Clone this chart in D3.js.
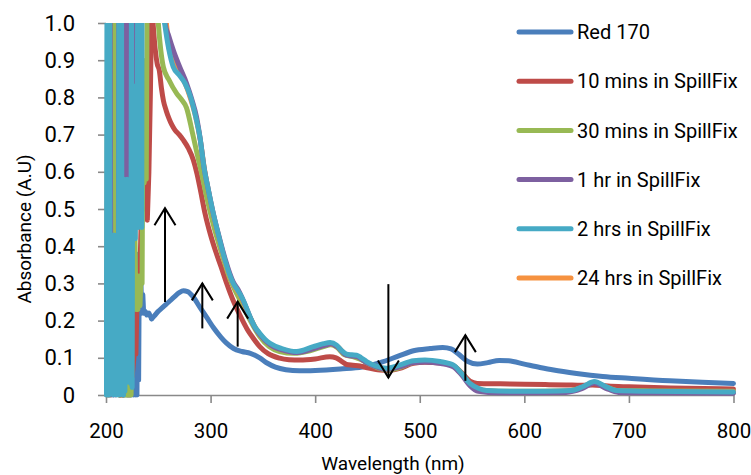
<!DOCTYPE html>
<html>
<head>
<meta charset="utf-8">
<script src="https://cdn.jsdelivr.net/npm/d3@7"></script>
<style>
  body { margin: 0; background: #fff; }
  svg text { font-family: Roboto, "Liberation Sans", sans-serif; fill: #000; }
</style>
</head>
<body>
<svg id="chart" width="751" height="475"></svg>
<script>
// UV-Vis absorbance spectra: [wavelength nm, absorbance]
const seriesNames = ["Red 170", "10 mins in SpillFix", "30 mins in SpillFix", "1 hr in SpillFix", "2 hrs in SpillFix", "24 hrs in SpillFix"];

const red170 = [[214,0],[215,1.1],[216,0],[217,1.15],[218,0],[219,1.2],[220,0],[221,1.1],[222,0],[223,1.2],[224,0],[225,1.1],
  [226.2,0],[227.2,0.39],[228.0,0],[228.8,0.38],[229.6,0],[230.4,0.36],[231.2,0.04],[231.8,0.33],[232.6,0.24],[233.4,0.3],[234.2,0.22],[235.2,0.27],[236,0.22],[237.5,0.225],[239,0.215],[241,0.22],[243.6,0.205],[246,0.212],[250,0.225],[254.7,0.237],[260,0.25],[265,0.263],[270,0.275],[274,0.28],[278,0.278],[283,0.265],[290,0.235],[296,0.21],[303,0.18],[310,0.155],[315,0.14],[322,0.125],[330,0.117],[338,0.112],[347,0.1],[354,0.086],[362,0.075],[372,0.068],[385,0.065],[400,0.066],[424,0.07],[445,0.075],[462,0.087],[480,0.105],[494,0.119],[510,0.125],[522,0.128],[530,0.124],[537,0.11],[546,0.09],[555,0.083],[565,0.087],[576,0.093],[585,0.092],[600,0.083],[615,0.074],[628,0.067],[650,0.058],[675,0.05],[700,0.045],[739,0.038],[770,0.034],[800,0.031]];

const mins10 = [[213,0],[214,1.1],[215,0],[216,1.2],[217,0],[218,1.1],[219,0.02],[220,1.2],[221,0],[222,1.1],[223,0],[224,1.2],[225,0.05],
  [227,0.11],[227.8,0.24],[228.6,0.11],[229.4,0.22],[230.6,0.3],[232,0.28],[233.5,0.45],[235,0.62],[236.5,0.5],[238,0.66],[239.5,0.47],[241,0.6],[242.5,0.82],[243.8,1.08],[245,1.0],[247,0.93],[249,0.89],[251,0.872],[253,0.825],[255,0.79],[257.5,0.765],[260,0.745],[263,0.726],[266,0.712],[270,0.7],[274,0.685],[279,0.662],[283.5,0.632],[287,0.595],[290,0.555],[294.7,0.488],[300,0.43],[305,0.385],[310,0.345],[315.4,0.3],[321,0.258],[328,0.215],[335,0.177],[341,0.152],[347,0.13],[355,0.111],[366,0.099],[375,0.095],[385.5,0.094],[400,0.097],[414,0.103],[420,0.1],[426,0.089],[430,0.082],[436,0.08],[443,0.078],[450,0.073],[462,0.067],[470,0.066],[480,0.071],[494,0.085],[505,0.088],[519,0.086],[532,0.079],[540,0.06],[548,0.037],[555,0.031],[577,0.03],[600,0.029],[620,0.028],[640,0.027],[655,0.026],[665,0.027],[680,0.024],[700,0.022],[740,0.019],[800,0.016]];

const mins30 = [[200.6,0],[201.6,1.2],[202.6,0],[203.6,1.2],[204.6,0],[205.6,1.2],[206.6,0.44],[207.6,1.2],[208.5,0.44],[209.4,1.2],[210.3,0.44],[211.2,1.2],[212,0],[213,1.2],[214,0],[215,1.1],[216,0],[217,0.5],[218,0],[219,0.5],[220,0],[221,0.5],[222,0],[223,0.5],[224,0],[225,0.5],[227.6,0.45],
  [228.5,0.23],[229.5,0.32],[230.5,0.23],[231.5,0.32],[232.5,0.24],[233.5,0.32],[234.5,0.3],[235.5,0.9],[236.5,0.57],[237.5,0.88],[238.5,0.58],[239.5,1.2],[245,1.25],[250,1.0],[254.8,0.882],[260,0.848],[267.5,0.811],[272,0.795],[277,0.772],[282.8,0.703],[287,0.65],[291.4,0.596],[296,0.535],[302,0.465],[308,0.405],[314,0.35],[319,0.308],[324,0.278],[330,0.245],[338,0.2],[347,0.157],[356,0.13],[366,0.117],[380,0.112],[395,0.119],[408,0.13],[415,0.135],[421,0.128],[428,0.108],[436,0.103],[443,0.096],[452,0.083],[462,0.071],[470,0.067],[480,0.073],[494,0.088],[505,0.091],[519,0.088],[532,0.079],[540,0.058],[548,0.029],[556,0.014],[575,0.01],[600,0.01],[640,0.011],[655,0.02],[667,0.034],[678,0.022],[690,0.012],[720,0.011],[800,0.01]];

const hr1 = [[200.8,0],[201.8,1.2],[202.8,0],[203.8,1.2],[204.8,0],[205.8,0.4],[207,0],[208,0.4],[209,0],[210,0.4],[211.8,0.3],[212.4,1.2],[213.3,0],[214.3,1.2],[215.3,0.3],[216.3,0],[217.3,1.2],[218.2,0.58],[219,1.2],[219.8,0.6],[220.6,1.2],[221.4,0.59],[222.2,1.2],[223,0.6],[223.8,1.2],[224.6,0.6],[225.4,1.2],[226.2,0.6],[227,1.2],[227.8,0.62],[228.6,1.2],[234,1.25],[250,1.3],
  [256.4,1.0],[260,0.965],[264.3,0.927],[270,0.885],[277,0.838],[282,0.795],[286.5,0.748],[290,0.69],[293.6,0.614],[298,0.55],[302.6,0.488],[308,0.427],[314,0.365],[318,0.33],[322,0.302],[326,0.285],[330,0.262],[334,0.235],[338,0.208],[342,0.183],[347,0.163],[357,0.135],[370,0.12],[382,0.114],[398,0.124],[410,0.134],[415,0.138],[421,0.13],[430,0.107],[440,0.103],[449,0.087],[460,0.074],[468,0.069],[480,0.075],[494,0.087],[505,0.089],[519,0.085],[532,0.076],[540,0.054],[548,0.025],[556,0.01],[575,0.006],[600,0.006],[640,0.007],[655,0.017],[667,0.032],[678,0.018],[690,0.007],[720,0.006],[800,0.005]];

const hrs2 = [[200.4,0],[201,1.2],[201.6,0.02],[202.2,1.2],[202.8,0],[203.4,1.15],[204,0.01],[204.6,0.43],[205.4,0.02],[206.2,0.42],[207,0],[207.8,0.43],[208.6,0.01],[209.4,0.42],[210.2,0],[211,0.43],[211.8,0.02],[212.4,1.2],[213,0],[213.6,1.2],[214.2,0.01],[214.8,1.15],[215.4,0.02],[216,0.57],[216.7,0],[217.4,0.58],[218.1,0.01],[218.8,0.56],[219.5,0.04],[220.2,0.58],[220.9,0.035],[221.6,0.57],[222.3,0.04],[223,0.56],[223.7,0.03],[224.4,1.2],[225,0.02],[225.6,0.83],[226.4,0.43],[227.2,0.83],[228,0.42],[228.8,0.83],[229.6,0.45],[230.4,1.2],[231.2,0.45],[232,1.2],[232.8,0.5],[233.6,1.2],[234.2,0.45],[234.5,1.2],[245,1.3],
  [256,1.0],[260,0.93],[264.3,0.882],[270,0.86],[275.5,0.838],[281,0.8],[286,0.745],[290,0.69],[293.6,0.614],[298,0.55],[302.6,0.488],[308,0.425],[314,0.36],[318,0.325],[322,0.298],[325,0.285],[328,0.272],[332,0.25],[337.7,0.21],[342,0.185],[347,0.166],[352,0.15],[356.8,0.139],[368,0.125],[382.3,0.117],[398.2,0.13],[408,0.138],[414.2,0.141],[420.5,0.134],[425,0.12],[430,0.11],[435,0.108],[439.7,0.107],[444,0.1],[449.2,0.09],[458,0.078],[468.3,0.072],[480,0.08],[494,0.092],[505,0.094],[519.4,0.09],[532,0.081],[540,0.058],[548,0.031],[556,0.018],[564,0.012],[590,0.01],[620,0.01],[645,0.012],[657,0.024],[667,0.036],[677,0.024],[688,0.012],[720,0.01],[800,0.008]];

const hrs24 = [[213,0],[213.6,1.1],[214.2,0],[214.8,1.15],[215.4,0.02],[216,1.25],[240,1.3],
  [256,1.05],[260,0.94],[265,0.89],[270,0.865],[276,0.835],[281,0.795],[286,0.745],[290,0.688],[294,0.61],[298,0.548],[302.6,0.485],[308,0.423],[314,0.358],[322,0.296],[328,0.27],[338,0.207],[347,0.163],[357,0.136],[370,0.121],[382,0.115],[398,0.126],[414,0.138],[421,0.131],[430,0.108],[440,0.104],[449,0.088],[460,0.075],[468,0.07],[480,0.077],[494,0.089],[505,0.091],[519,0.087],[532,0.078],[540,0.056],[548,0.028],[556,0.013],[575,0.009],[600,0.009],[640,0.01],[655,0.02],[667,0.034],[678,0.021],[690,0.01],[720,0.009],[800,0.008]];

const xTicks = [200, 300, 400, 500, 600, 700, 800];
const yTicks = [0, 0.1, 0.2, 0.3, 0.4, 0.5, 0.6, 0.7, 0.8, 0.9, 1.0];

// Annotation arrows: wavelength, start absorbance, end absorbance
const arrowW    = [256.4, 292.1, 325.9, 470, 543.6];
const arrowFrom = [0.25, 0.179, 0.13, 0.298, 0.038];
const arrowTo   = [0.502, 0.30, 0.251, 0.047, 0.161];

const seriesData = [red170, mins10, mins30, hr1, hrs2, hrs24];
const palette = ["#4A7EBB", "#BE4B48", "#98B954", "#7D60A0", "#46AAC5", "#F69240"];
// paint order (later on top)
const drawOrder = [0, 1, 2, 5, 3, 4];
// below this wavelength the detector noise is drawn point to point
const noiseEnd = 245;

const svg = d3.select("#chart");
svg.append("rect").attr("width", 751).attr("height", 475).attr("fill", "#fff");

const x = d3.scaleLinear().domain([200, 800]).range([106, 733.5]);
const y = d3.scaleLinear().domain([0, 1]).range([395, 23]);

const axisColor = "#898989";

const gx = svg.append("g").attr("transform", `translate(0,${y(0)})`)
  .call(d3.axisBottom(x).tickValues(xTicks).tickSize(8).tickSizeOuter(0).tickPadding(20).tickFormat(d3.format("d")));
const gy = svg.append("g").attr("transform", `translate(${x(200)},0)`)
  .call(d3.axisLeft(y).tickValues(yTicks).tickSize(8).tickSizeOuter(0).tickPadding(23)
    .tickFormat(d => d === 0 ? "0" : d3.format(".1f")(d)));

[gx, gy].forEach(g => {
  g.select(".domain").attr("stroke", axisColor).attr("stroke-width", 1.6);
  g.selectAll(".tick line").attr("stroke", axisColor).attr("stroke-width", 1.6);
  g.selectAll(".tick text").attr("fill", "#000");
});
gx.selectAll(".tick text").attr("font-size", 20.5);
gy.selectAll(".tick text").attr("font-size", 22);

svg.append("text").attr("x", 393).attr("y", 470).attr("text-anchor", "middle")
  .attr("font-size", 19).text("Wavelength (nm)");
svg.append("text").attr("transform", "translate(31,229) rotate(-90)").attr("text-anchor", "middle")
  .attr("font-size", 19).text("Absorbance (A.U)");

svg.append("clipPath").attr("id", "plotClip").append("rect")
  .attr("x", 104).attr("y", y(1)).attr("width", 636).attr("height", y(0) - y(1) + 3);

const noiseLine = d3.line().x(d => x(d[0])).y(d => y(d[1])).curve(d3.curveLinear);
const smoothLine = d3.line().x(d => x(d[0])).y(d => y(d[1])).curve(d3.curveMonotoneX);

const plot = svg.append("g").attr("clip-path", "url(#plotClip)");
drawOrder.forEach(i => {
  const pts = seriesData[i];
  let k = 0;
  while (k + 1 < pts.length && pts[k + 1][0] <= noiseEnd) k++;
  const g = plot.append("g").attr("fill", "none")
    .attr("stroke", palette[i]).attr("stroke-width", 5)
    .attr("stroke-linejoin", "round").attr("stroke-linecap", "round");
  g.append("path").attr("d", noiseLine(pts.slice(0, k + 1)));
  g.append("path").attr("d", smoothLine(pts.slice(k)));
});

// arrows
const arrows = svg.append("g").attr("stroke", "#000").attr("stroke-width", 2).attr("fill", "none");
arrowW.forEach((w, i) => {
  const ax = x(w), y0 = y(arrowFrom[i]), y1 = y(arrowTo[i]);
  const dir = y1 < y0 ? 1 : -1;
  arrows.append("line").attr("x1", ax).attr("x2", ax).attr("y1", y0).attr("y2", y1);
  arrows.append("path").attr("d", `M${ax - 10.5},${y1 + dir * 17}L${ax},${y1}L${ax + 10.5},${y1 + dir * 17}`);
});

// legend
const legend = svg.append("g");
seriesNames.forEach((name, i) => {
  const ly = 32 + i * 49.2;
  legend.append("line").attr("x1", 519).attr("x2", 571).attr("y1", ly).attr("y2", ly)
    .attr("stroke", palette[i]).attr("stroke-width", 5).attr("stroke-linecap", "round");
  legend.append("text").attr("x", 577).attr("y", ly).attr("dy", "0.36em")
    .attr("font-size", 20).text(name);
});
</script>
</body>
</html>
